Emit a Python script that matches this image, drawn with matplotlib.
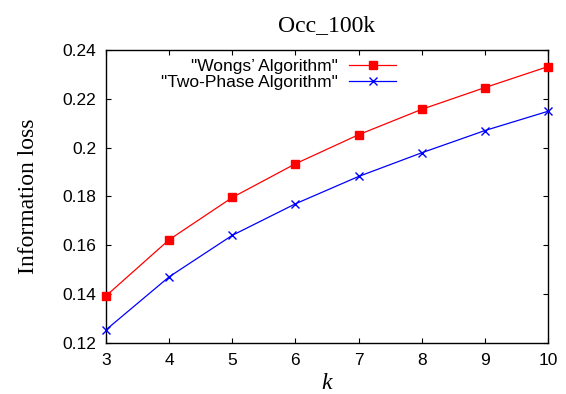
# -*- coding: utf-8 -*-

"""
Information loss against k on the Occ_100k data set.
"""

import matplotlib

matplotlib.use("Agg")
from matplotlib import pyplot as plt

# #############################################################################
# Data
# #############################################################################

k_values = [3, 4, 5, 6, 7, 8, 9, 10]
wongs_loss = [0.1393, 0.1623, 0.1796, 0.1934, 0.2053, 0.2157, 0.2246, 0.2332]
two_phase_loss = [0.1254, 0.1471, 0.1641, 0.1770, 0.1882, 0.1979, 0.2070, 0.2149]

y_ticks = [0.12, 0.14, 0.16, 0.18, 0.2, 0.22, 0.24]
y_tick_labels = ["0.12", "0.14", "0.16", "0.18", "0.2", "0.22", "0.24"]

# #############################################################################
# Plot
# #############################################################################

W, H = 566, 394
SANS = "Liberation Sans"
SERIF = "Liberation Serif"

figure = plt.figure(figsize=(W / 100, H / 100), dpi=100)
axis = figure.add_axes([106 / W, 1 - 343 / H, (548 - 106) / W, (343 - 50) / H])

axis.plot(k_values, wongs_loss, color="red", lw=0.9, marker="s", ms=6,
          label="\"Wongs\u2019 Algorithm\"", clip_on=False, zorder=3)
axis.plot(k_values, two_phase_loss, color="blue", lw=0.9, marker="x", ms=6,
          mew=1.0, label="\"Two-Phase Algorithm\"", clip_on=False, zorder=3)

axis.set_xlim(3, 10)
axis.set_ylim(0.12, 0.24)
axis.set_xticks(k_values)
axis.set_yticks(y_ticks)
axis.set_yticklabels(y_tick_labels)

axis.tick_params(direction="in", length=3.6, width=0.8, top=True, right=True,
                 labelsize=12.5, pad=7)
for label in axis.get_xticklabels() + axis.get_yticklabels():
    label.set_family(SANS)
for spine in axis.spines.values():
    spine.set_linewidth(1.0)

axis.set_title("Occ_100k", family=SERIF, fontsize=17, pad=14)
axis.set_xlabel("k", family=SERIF, style="italic", fontsize=17, labelpad=4)
axis.set_ylabel("Information loss", family=SERIF, fontsize=17, labelpad=17)

legend = axis.legend(loc="upper right", bbox_to_anchor=(396 / W, 1 - 59 / H),
                     bbox_transform=figure.transFigure, frameon=False,
                     markerfirst=False, borderpad=0, borderaxespad=0,
                     handlelength=2.7, handletextpad=0.65, labelspacing=0.06,
                     prop={"family": SANS, "size": 12.5})

figure.savefig("out.png", dpi=100)
